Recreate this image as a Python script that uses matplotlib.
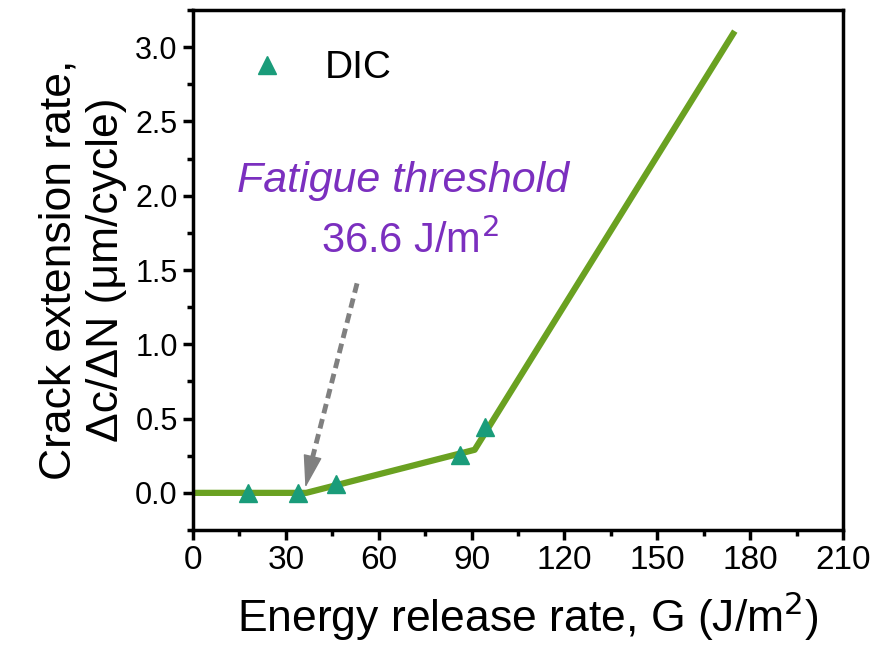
import matplotlib
matplotlib.use("Agg")
import matplotlib.pyplot as plt
from matplotlib.ticker import MultipleLocator

plt.rcParams['font.family'] = ['Liberation Sans', 'DejaVu Sans']

# DIC measurements
dic_g = [17.8, 33.9, 46.2, 86.3, 94.3]
dic_rate = [0.0, 0.0, 0.06, 0.255, 0.44]

# fitted piecewise line
fit_g = [0, 36.6, 91.0, 174.5]
fit_rate = [0.0, 0.0, 0.29, 3.09]

threshold = 36.6

fig = plt.figure(figsize=(8.76, 6.55), dpi=100)
ax = fig.add_axes([193 / 876, 125 / 655, 650 / 876, 520 / 655])

ax.plot(fit_g, fit_rate, color='#6aa121', lw=4.5, zorder=2)
ax.plot(dic_g, dic_rate, '^', color='#1a9c7a', ms=13.5, ls='none', label='DIC', zorder=3)

# dashed arrow pointing at the threshold
ax.plot([53, 38.6], [1.41, 0.236], color='#808080', lw=3.5, ls=(0, (2, 1.2)),
        solid_capstyle='butt', dash_capstyle='butt', zorder=2)
ax.annotate('', xy=(36.3, 0.035), xytext=(38.6, 0.24),
            arrowprops=dict(arrowstyle='-|>,head_length=2.1,head_width=0.6', color='#808080',
                            lw=1, shrinkA=0, shrinkB=0), zorder=2)
ax.text(68, 2.10, 'Fatigue threshold', color='#7b2fbf', fontsize=31, style='italic',
        ha='center', va='center')
ax.text(70, 1.70, '36.6 J/m$^2$', color='#7b2fbf', fontsize=30, ha='center', va='center')

ax.set_xlim(0, 210)
ax.set_ylim(-0.25, 3.25)
ax.xaxis.set_major_locator(MultipleLocator(30))
ax.xaxis.set_minor_locator(MultipleLocator(15))
ax.yaxis.set_major_locator(MultipleLocator(0.5))
ax.yaxis.set_minor_locator(MultipleLocator(0.25))
ax.set_yticks([0, 0.5, 1.0, 1.5, 2.0, 2.5, 3.0])
ax.tick_params(which='major', direction='out', length=7, width=2.5, pad=4)
ax.tick_params(which='minor', direction='out', length=4, width=2.5)
ax.tick_params(axis='x', labelsize=24)
ax.tick_params(axis='y', labelsize=22)
for sp in ax.spines.values():
    sp.set_linewidth(2.5)

ax.set_xlabel('Energy release rate, G (J/m$^2$)', fontsize=32, labelpad=4)
ax.xaxis.set_label_coords(0.515, -0.115)
ax.set_ylabel('Crack extension rate,\n\u0394c/\u0394N (\u03bcm/cycle)', fontsize=32, labelpad=6)

ax.legend(loc='upper left', frameon=False, fontsize=28, handletextpad=0.5,
          bbox_to_anchor=(0.0, 0.99))

fig.savefig('out.png', dpi=100)
